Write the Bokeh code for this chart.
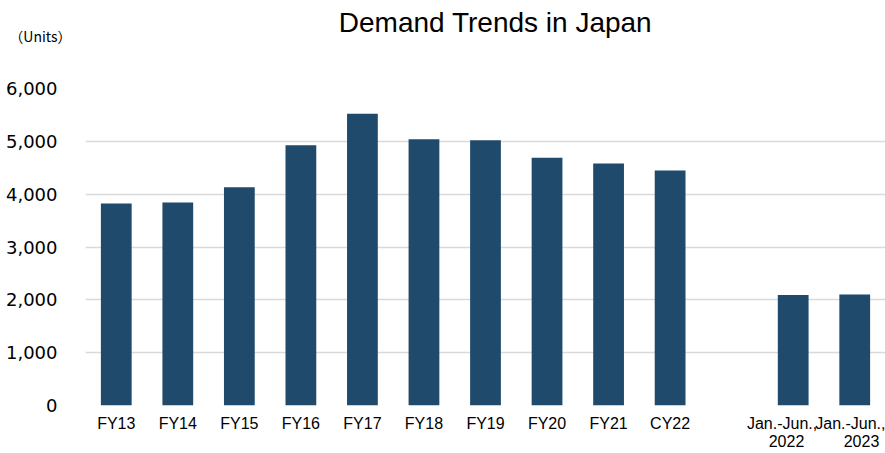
from bokeh.plotting import figure
from bokeh.layouts import column
from bokeh.models import Range1d, FixedTicker, NumeralTickFormatter, Label, ColumnDataSource
from bokeh.embed import file_html
from bokeh.resources import INLINE

# ---- data ----
categories = ["FY13", "FY14", "FY15", "FY16", "FY17", "FY18", "FY19", "FY20", "FY21", "CY22",
              "", "Jan.-Jun.,\n2022", "Jan.-Jun.,\n2023"]
units = [3825, 3843, 4132, 4925, 5523, 5040, 5020, 4690, 4580, 4450, None, 2090, 2100]
y_ticks = [0, 1000, 2000, 3000, 4000, 5000, 6000]
title_text = "Demand Trends in Japan"
unit_text = "\uff08Units\uff09"

BAR_COLOR = "#1f4a6b"
GRID_COLOR = "#d9d9d9"

W = 885
LEFT = 85
HEADER_H = 70
MAIN_H = 453 - HEADER_H
UNIT_Y = HEADER_H - 35

NB = "\u00a0"
# displayed tick texts: the two half-year labels are nudged apart (as in the source)
display_labels = list(categories)
display_labels[11] = "Jan.-Jun.," + NB * 5 + "\n2022" + NB * 3
display_labels[12] = "Jan.-Jun.,\n" + NB * 5 + "2023"

# ---- header (title + unit caption) ----
head = figure(width=W, height=HEADER_H, output_backend="svg", toolbar_location=None,
              x_range=Range1d(LEFT, W), y_range=Range1d(0, HEADER_H),
              x_axis_location=None,
              min_border_left=LEFT, min_border_right=0,
              min_border_top=0, min_border_bottom=0)
head.outline_line_color = None
head.grid.visible = False
head.yaxis.ticker = FixedTicker(ticks=[UNIT_Y])
head.yaxis.major_label_overrides = {UNIT_Y: unit_text}
head.yaxis.axis_line_color = None
head.yaxis.major_tick_line_color = None
head.yaxis.minor_tick_line_color = None
head.yaxis.major_tick_in = 0
head.yaxis.major_tick_out = 0
head.yaxis.major_label_standoff = 14
head.yaxis.major_label_text_font = "Noto Sans CJK JP"
head.yaxis.major_label_text_font_size = "14px"
head.yaxis.major_label_text_color = "#000000"
head.add_layout(Label(x=495, y=HEADER_H - 22, text=title_text, text_align="center",
                      text_baseline="middle", text_font="Liberation Sans",
                      text_font_size="28px", text_color="#000000"))

# ---- main chart ----
xs = [i for i, v in enumerate(units) if v is not None]
tops = [v for v in units if v is not None]
source = ColumnDataSource(dict(x=xs, top=tops))

p = figure(width=W, height=MAIN_H, output_backend="svg", toolbar_location=None,
           x_range=Range1d(-0.5, len(categories) - 0.5), y_range=Range1d(0, 6000),
           min_border_left=LEFT, min_border_right=0, min_border_top=88 - HEADER_H,
           min_border_bottom=48)
p.outline_line_color = None

p.vbar(x="x", top="top", width=0.5, bottom=0, source=source,
       fill_color=BAR_COLOR, line_color=None)

# x axis
p.xaxis.ticker = FixedTicker(ticks=list(range(len(categories))))
p.xaxis.major_label_overrides = {i: c for i, c in enumerate(display_labels)}
p.xaxis.axis_line_color = None
p.xaxis.major_tick_line_color = None
p.xaxis.minor_tick_line_color = None
p.xaxis.major_tick_in = 0
p.xaxis.major_tick_out = 0
p.xaxis.major_label_standoff = 9
p.xaxis.major_label_text_font = "Liberation Sans"
p.xaxis.major_label_text_font_size = "16px"
p.xaxis.major_label_text_color = "#000000"
p.xaxis.major_label_text_line_height = 1.1
p.xgrid.grid_line_color = None

# y axis
p.yaxis.ticker = FixedTicker(ticks=y_ticks)
p.yaxis.formatter = NumeralTickFormatter(format="0,0")
p.yaxis.axis_line_color = None
p.yaxis.major_tick_line_color = None
p.yaxis.minor_tick_line_color = None
p.yaxis.major_tick_in = 0
p.yaxis.major_tick_out = 0
p.yaxis.major_label_standoff = 28
p.yaxis.major_label_text_font = "DejaVu Sans"
p.yaxis.major_label_text_font_size = "18px"
p.yaxis.major_label_text_color = "#000000"
p.ygrid.ticker = FixedTicker(ticks=y_ticks)
p.ygrid.grid_line_color = GRID_COLOR
p.ygrid.grid_line_width = 1.5

layout = column(head, p, spacing=0)
open("out.html", "w").write(file_html(layout, INLINE))
